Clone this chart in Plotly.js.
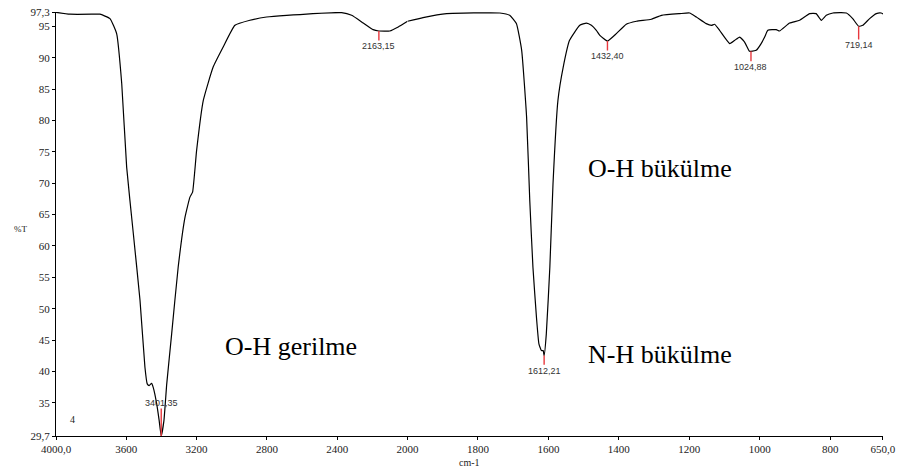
<!DOCTYPE html>
<html>
<head>
<meta charset="utf-8">
<script src="https://cdn.plot.ly/plotly-3.0.1.min.js"></script>
<style>html,body{margin:0;padding:0;background:#fff}#chart{width:902px;height:472px}</style>
</head>
<body>
<div id="chart"></div>
<script>
// Spectrum, high wavenumber part (4000 -> 2000 cm-1)
const wnHigh = [4000,3920,3778,3750,3693,3655,3626,3598,3560,3522,3494,3481,3470,3456,3447,3427,3413,3401.35,3386,3370,3342,3305,3266,3238,3223,3200,3162,3106,3049,2982,2897,2802,2688,2612,2539,2375,2318,2252,2196,2163.15,2101,2053,2000];
const tHigh  = [97.25,96.95,96.95,96.95,96.25,93.85,85.87,72.57,61.94,51.30,40.66,38.01,37.74,38.10,37.46,34.81,32.15,29.7,32.15,38.01,45.98,56.61,64.59,67.78,68.58,75.23,83.21,88.52,91.71,95.18,95.98,96.50,96.77,96.89,97.04,97.20,96.77,95.54,94.49,94.27,94.27,94.91,95.82];
// Spectrum, low wavenumber part (2000 -> 650 cm-1)
const wnLow = [2000,1956,1889,1738,1710,1691,1676,1662,1653,1644,1634,1627,1620,1615,1612.21,1606,1596,1587,1573,1558,1540,1511,1492,1478,1464,1454,1432.40,1407,1379,1350,1308,1279,1227,1199,1180,1152,1137,1128,1114,1085,1071,1057,1043,1029,1024.88,1010,996,986,977,953,944,915,887,858,840,825,811,792,754,736,719.14,707,688,669,655,650];
const tLow  = [95.82,96.41,97.04,97.14,96.77,95.45,91.19,80.54,67.25,56.61,48.63,44.39,43.32,43.32,42.52,45.98,56.61,69.92,83.21,88.52,92.78,95.18,95.54,95.18,94.38,93.58,92.67,93.85,95.34,95.82,96.14,96.77,97.04,97.14,96.50,95.45,95.18,95.34,94.38,92.26,92.79,93.31,92.51,91.03,91.03,91.19,92.26,93.31,94.38,94.49,94.27,95.54,95.98,97.04,97.04,95.98,96.77,97.14,97.14,96.25,95.02,95.18,96.25,97.04,97.14,97.0];

// Peak labels
const peakWn = [3401.35, 2163.15, 1612.21, 1432.40, 1024.88, 719.14];
const peakT  = [29.7, 94.27, 42.52, 92.67, 91.03, 95.02];
const peakLabels = ["3401,35", "2163,15", "1612,21", "1432,40", "1024,88", "719,14"];

// Axis ticks
const xTicksHigh = [4000, 3600, 3200, 2800, 2400, 2000];
const xTextHigh  = ["4000,0", "3600", "3200", "2800", "2400", "2000"];
const xTicksLow  = [1800, 1600, 1400, 1200, 1000, 800, 650];
const xTextLow   = ["1800", "1600", "1400", "1200", "1000", "800", "650,0"];
const yTicks = [29.7, 35, 40, 45, 50, 55, 60, 65, 70, 75, 80, 85, 90, 95, 97.3];
const yText  = ["29,7", "35", "40", "45", "50", "55", "60", "65", "70", "75", "80", "85", "90", "95", "97,3"];

// Band annotations
const bandTexts = ["O-H gerilme", "O-H bükülme", "N-H bükülme"];

const serif = "Liberation Serif";
const split = 0.4251;

const traces = [
  {x: wnHigh, y: tHigh, xaxis: 'x', yaxis: 'y', mode: 'lines', line: {color: '#000', width: 1.2, shape: 'spline', smoothing: 0.4}, hoverinfo: 'skip'},
  {x: wnLow, y: tLow, xaxis: 'x2', yaxis: 'y', mode: 'lines', line: {color: '#000', width: 1.2, shape: 'spline', smoothing: 0.4}, hoverinfo: 'skip'}
];

const shapes = [];
const annotations = [];
const lineLen = [4.4, 1.5, 1.45, 1.5, 1.6, 2.1];
peakWn.forEach((w, i) => {
  const xr = w >= 2000 ? 'x' : 'x2';
  const t0 = peakT[i];
  const t1 = i === 0 ? t0 + lineLen[i] : t0 - lineLen[i];
  shapes.push({type: 'line', xref: xr, yref: 'y', x0: w, x1: w, y0: t0, y1: t1,
               line: {color: '#e8383d', width: 1.4}});
  annotations.push({xref: xr, yref: 'y', x: w, y: t1, text: peakLabels[i], showarrow: false,
               xanchor: 'center', yanchor: i === 0 ? 'bottom' : 'top', yshift: i === 0 ? -2 : 1,
               font: {family: 'Liberation Sans', size: 9, color: '#333'}});
});

// Big band labels (paper coordinates)
const bandPos = [[0.2018, 0.212], [0.6407, 0.632], [0.6407, 0.192]];
bandTexts.forEach((t, i) => {
  annotations.push({xref: 'paper', yref: 'paper', x: bandPos[i][0], y: bandPos[i][1], text: t,
    showarrow: false, xanchor: 'left', yanchor: 'middle', font: {family: serif, size: 26, color: '#000'}});
});
annotations.push({xref: 'paper', yref: 'paper', x: 0.5, y: -0.062, text: 'cm-1', showarrow: false,
  xanchor: 'center', yanchor: 'middle', font: {family: serif, size: 10, color: '#222'}});
annotations.push({xref: 'paper', yref: 'paper', x: -0.0435, y: 0.488, text: '%T', showarrow: false,
  xanchor: 'center', yanchor: 'middle', font: {family: serif, size: 9, color: '#222'}});
annotations.push({xref: 'paper', yref: 'paper', x: 0.0202, y: 0.04, text: '4', showarrow: false,
  xanchor: 'center', yanchor: 'middle', font: {family: serif, size: 10, color: '#222'}});

const axisCommon = {
  showgrid: false, zeroline: false, showline: true, linecolor: '#000', linewidth: 1,
  ticks: 'outside', ticklen: 3, tickcolor: '#000', tickwidth: 1,
  tickfont: {family: serif, size: 11, color: '#222'}, tickmode: 'array', fixedrange: true
};

const layout = {
  width: 902, height: 472,
  margin: {l: 56, r: 18.7, t: 11.7, b: 36, pad: 0},
  paper_bgcolor: '#fff', plot_bgcolor: '#fff',
  showlegend: false,
  xaxis: Object.assign({}, axisCommon, {domain: [0, split], range: [4000, 2000], anchor: 'y',
          tickvals: xTicksHigh, ticktext: xTextHigh}),
  xaxis2: Object.assign({}, axisCommon, {domain: [split, 1], range: [2000, 650], anchor: 'y',
          tickvals: xTicksLow, ticktext: xTextLow}),
  yaxis: Object.assign({}, axisCommon, {range: [29.7, 97.3], anchor: 'x',
          tickvals: yTicks, ticktext: yText}),
  shapes: shapes,
  annotations: annotations
};

Plotly.newPlot('chart', traces, layout, {displayModeBar: false, staticPlot: true});
</script>
</body>
</html>
